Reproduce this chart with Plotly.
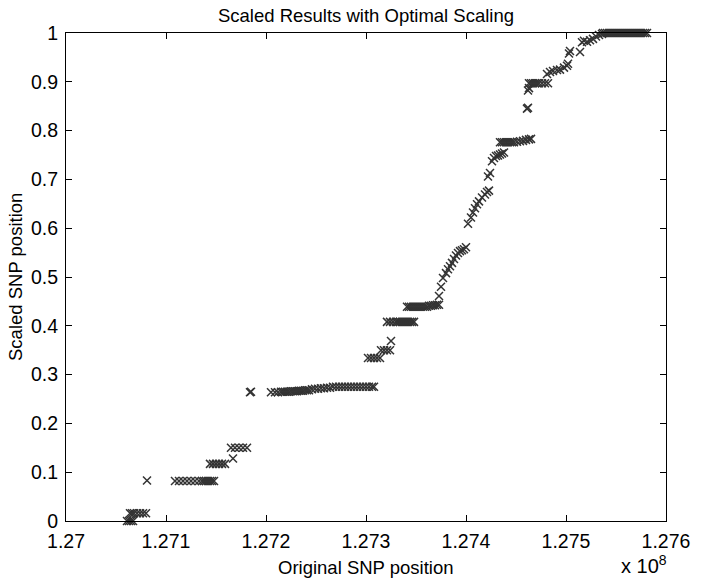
import plotly.graph_objects as go

# Original SNP positions (bp) and their optimally scaled positions, grouped by step
snp_position = [
    127061000, 127063000, 127065000, 127067000,
    127064000, 127066000, 127068000, 127071000, 127074000, 127077000, 127080000,
    127081000,
    127109000, 127113000, 127117000, 127121000, 127125000, 127129000, 127133000,
    127136000, 127138000, 127140000, 127142000, 127144000, 127146000, 127148000,
    127144000, 127147000, 127150000, 127153000, 127156000, 127159000,
    127167000,
    127165000, 127169000, 127173000, 127177000, 127181000,
    127184000, 127185000,
    127205000, 127209000, 127212000, 127215000, 127217000, 127219000, 127221000,
    127223000, 127225000, 127227000, 127229000, 127231000, 127233000, 127235000,
    127237000, 127239000, 127241000, 127243000,
    127246000, 127249000, 127252000, 127255000, 127258000, 127261000, 127264000,
    127267000, 127270000, 127273000, 127276000, 127279000, 127282000, 127285000,
    127288000, 127291000, 127294000, 127297000, 127300000, 127303000, 127306000,
    127308000,
    127302000, 127305000, 127308000, 127311000, 127314000,
    127315000, 127318000, 127321000, 127324000,
    127325000,
    127321000, 127324000, 127327000, 127330000, 127332000, 127334000, 127336000,
    127338000, 127340000, 127342000, 127344000, 127346000, 127348000,
    127341000, 127343000, 127345000, 127347000, 127349000, 127351000, 127353000,
    127355000, 127357000, 127359000, 127361000, 127363000, 127365000, 127367000,
    127369000, 127371000, 127373000,
    127373000, 127375000, 127377000, 127380000, 127382000, 127384000, 127386000,
    127388000, 127390000, 127392000, 127394000, 127396000, 127398000, 127400000,
    127402000, 127405000, 127407000, 127409000, 127411000, 127413000, 127416000,
    127419000, 127421000, 127423000,
    127422000, 127424000, 127426000, 127428000, 127430000, 127432000, 127434000,
    127436000, 127438000,
    127434000, 127436000, 127438000, 127440000, 127442000, 127444000, 127446000,
    127448000, 127451000, 127454000, 127457000, 127460000, 127463000, 127465000,
    127461000, 127462000,
    127462000, 127463000,
    127463000, 127465000, 127467000, 127469000, 127471000, 127473000, 127476000,
    127479000, 127482000,
    127481000, 127484000, 127487000, 127491000, 127494000, 127498000, 127501000,
    127502000,
    127503000, 127504000, 127514000,
    127516000, 127518000, 127521000, 127524000, 127527000,
    127530000, 127533000, 127536000,
    127537000, 127539000, 127541000, 127543000, 127545000, 127547000, 127549000,
    127551000, 127553000, 127555000, 127557000, 127559000, 127561000, 127563000,
    127565000, 127567000, 127569000, 127571000, 127573000, 127575000, 127577000,
    127579000, 127581000,
]

scaled_position = [
    0.000, 0.000, 0.000, 0.000,
    0.016, 0.016, 0.016, 0.016, 0.016, 0.016, 0.016,
    0.083,
    0.082, 0.082, 0.082, 0.082, 0.082, 0.082, 0.082,
    0.082, 0.082, 0.082, 0.082, 0.082, 0.082, 0.082,
    0.117, 0.117, 0.117, 0.117, 0.117, 0.117,
    0.128,
    0.150, 0.150, 0.150, 0.150, 0.150,
    0.264, 0.265,
    0.264, 0.264, 0.264, 0.265, 0.265, 0.265, 0.265,
    0.265, 0.266, 0.266, 0.266, 0.266, 0.267, 0.267,
    0.267, 0.268, 0.268, 0.268,
    0.270, 0.271, 0.271, 0.272, 0.272, 0.273, 0.273,
    0.275, 0.275, 0.275, 0.275, 0.275, 0.275, 0.275,
    0.275, 0.275, 0.275, 0.275, 0.275, 0.275, 0.275,
    0.275,
    0.334, 0.334, 0.334, 0.334, 0.334,
    0.350, 0.350, 0.350, 0.350,
    0.369,
    0.408, 0.408, 0.408, 0.408, 0.408, 0.408, 0.408,
    0.408, 0.408, 0.408, 0.408, 0.408, 0.408,
    0.439, 0.439, 0.439, 0.439, 0.439, 0.439, 0.439,
    0.439, 0.439, 0.439, 0.439, 0.441, 0.441, 0.442,
    0.442, 0.443, 0.443,
    0.461, 0.480, 0.498, 0.508, 0.516, 0.522, 0.529,
    0.537, 0.544, 0.549, 0.553, 0.555, 0.557, 0.561,
    0.609, 0.622, 0.632, 0.641, 0.649, 0.655, 0.663,
    0.669, 0.674, 0.677,
    0.706, 0.713, 0.737, 0.744, 0.748, 0.749, 0.751,
    0.753, 0.755,
    0.776, 0.776, 0.776, 0.776, 0.776, 0.776, 0.776,
    0.776, 0.777, 0.778, 0.779, 0.781, 0.782, 0.783,
    0.845, 0.847,
    0.882, 0.887,
    0.897, 0.897, 0.897, 0.897, 0.897, 0.897, 0.897,
    0.897, 0.897,
    0.916, 0.920, 0.922, 0.924, 0.925, 0.929, 0.933,
    0.937,
    0.958, 0.963, 0.961,
    0.981, 0.984, 0.982, 0.985, 0.988,
    0.993, 0.996, 0.998,
    1.000, 1.000, 1.000, 1.000, 1.000, 1.000, 1.000,
    1.000, 1.000, 1.000, 1.000, 1.000, 1.000, 1.000,
    1.000, 1.000, 1.000, 1.000, 1.000, 1.000, 1.000,
    1.000, 1.000,
]

x_ticks = [1.270, 1.271, 1.272, 1.273, 1.274, 1.275, 1.276]
x_tick_labels = ["1.27", "1.271", "1.272", "1.273", "1.274", "1.275", "1.276"]
y_ticks = [0, 0.1, 0.2, 0.3, 0.4, 0.5, 0.6, 0.7, 0.8, 0.9, 1.0]
y_tick_labels = ["0", "0.1", "0.2", "0.3", "0.4", "0.5", "0.6", "0.7", "0.8", "0.9", "1"]

FONT = "Liberation Sans, Arial, Helvetica, sans-serif"
TICK_SIZE = 19.5
LABEL_SIZE = 18.5

# positions shown in units of 10^8 bp
x_scaled = [p / 1e8 for p in snp_position]

fig = go.Figure(
    go.Scatter(
        x=x_scaled,
        y=scaled_position,
        mode="markers",
        marker=dict(symbol="x-thin", size=8,
                    line=dict(width=1.5, color="#333333")),
        cliponaxis=False,
        hoverinfo="skip",
    )
)

axis_common = dict(
    showline=True, linecolor="black", linewidth=1, mirror="ticks",
    ticks="inside", ticklen=6, tickwidth=1, tickcolor="black",
    showgrid=False, zeroline=False,
    tickfont=dict(family=FONT, size=TICK_SIZE, color="black"),
)

fig.update_xaxes(range=[1.270, 1.276], tickvals=x_ticks, ticktext=x_tick_labels,
                 ticklabelstandoff=3, **axis_common)
fig.update_yaxes(range=[0, 1], tickvals=y_ticks, ticktext=y_tick_labels,
                 ticklabelstandoff=3, **axis_common)

W, H = 713, 585
L, R, T, B = 66, 47, 33, 64

fig.update_layout(
    width=W, height=H,
    margin=dict(l=L, r=R, t=T, b=B, pad=0),
    paper_bgcolor="white", plot_bgcolor="white",
    showlegend=False,
    font=dict(family=FONT, size=LABEL_SIZE, color="black"),
    title=dict(text="Scaled Results with Optimal Scaling",
               x=0.5, xref="paper", xanchor="center",
               y=1 - 16 / H, yref="container", yanchor="middle",
               font=dict(family=FONT, size=LABEL_SIZE, color="black")),
    annotations=[
        dict(text="Original SNP position", xref="paper", yref="paper",
             x=0.5, y=-(567 - 521) / 488, xanchor="center", yanchor="middle",
             showarrow=False, font=dict(family=FONT, size=LABEL_SIZE, color="black")),
        dict(text="x 10<sup>8</sup>", xref="paper", yref="paper",
             x=1.0, y=-(564 - 521) / 488, xanchor="right", yanchor="middle",
             xshift=3, showarrow=False,
             font=dict(family=FONT, size=20, color="black")),
        dict(text="Scaled SNP position", xref="paper", yref="paper",
             x=-(66 - 15) / 600, y=0.5, xanchor="center", yanchor="middle",
             textangle=-90, showarrow=False,
             font=dict(family=FONT, size=LABEL_SIZE, color="black")),
    ],
)

fig.write_html("out.html")
